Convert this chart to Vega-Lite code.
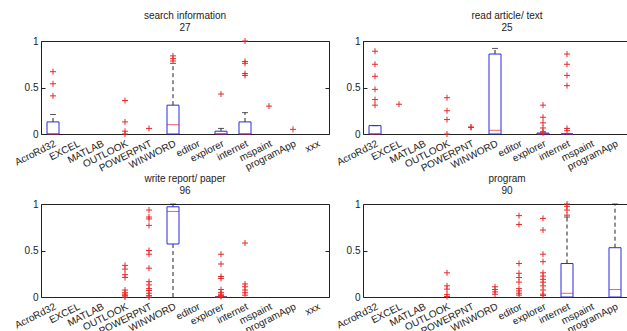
{
  "$schema": "https://vega.github.io/schema/vega-lite/v6.json",
  "autosize": "none",
  "padding": {"left": 41, "top": 41, "right": 586, "bottom": 290},
  "datasets": {
    "boxes": [
      {"panel": "search information", "app": "AcroRd32", "q1": 0, "med": 0, "q3": 0.13, "wlo": 0, "whi": 0.21},
      {"panel": "search information", "app": "WINWORD", "q1": 0, "med": 0.1, "q3": 0.31, "wlo": 0, "whi": 0.76},
      {"panel": "search information", "app": "explorer", "q1": 0, "med": 0, "q3": 0.03, "wlo": 0, "whi": 0.06},
      {"panel": "search information", "app": "internet", "q1": 0, "med": 0, "q3": 0.13, "wlo": 0, "whi": 0.23},
      {"panel": "read article/ text", "app": "AcroRd32", "q1": 0, "med": 0, "q3": 0.09, "wlo": 0, "whi": 0.09},
      {"panel": "read article/ text", "app": "WINWORD", "q1": 0, "med": 0.04, "q3": 0.86, "wlo": 0, "whi": 0.92},
      {"panel": "read article/ text", "app": "explorer", "q1": 0, "med": 0, "q3": 0.01, "wlo": 0, "whi": 0.01},
      {"panel": "read article/ text", "app": "internet", "q1": 0, "med": 0, "q3": 0, "wlo": 0, "whi": 0},
      {"panel": "write report/ paper", "app": "WINWORD", "q1": 0.57, "med": 0.92, "q3": 0.97, "wlo": 0, "whi": 1},
      {"panel": "write report/ paper", "app": "explorer", "q1": 0, "med": 0, "q3": 0, "wlo": 0, "whi": 0},
      {"panel": "program", "app": "internet", "q1": 0, "med": 0.04, "q3": 0.36, "wlo": 0, "whi": 0.86},
      {"panel": "program", "app": "programApp", "q1": 0, "med": 0.08, "q3": 0.53, "wlo": 0, "whi": 1}
    ],
    "outliers": [
      {"panel": "search information", "app": "AcroRd32", "v": 0.41},
      {"panel": "search information", "app": "AcroRd32", "v": 0.54},
      {"panel": "search information", "app": "AcroRd32", "v": 0.67},
      {"panel": "search information", "app": "OUTLOOK", "v": 0.36},
      {"panel": "search information", "app": "OUTLOOK", "v": 0.13},
      {"panel": "search information", "app": "OUTLOOK", "v": 0.03},
      {"panel": "search information", "app": "OUTLOOK", "v": 0.0},
      {"panel": "search information", "app": "POWERPNT", "v": 0.06},
      {"panel": "search information", "app": "WINWORD", "v": 0.785},
      {"panel": "search information", "app": "WINWORD", "v": 0.81},
      {"panel": "search information", "app": "WINWORD", "v": 0.84},
      {"panel": "search information", "app": "explorer", "v": 0.43},
      {"panel": "search information", "app": "internet", "v": 0.63},
      {"panel": "search information", "app": "internet", "v": 0.65},
      {"panel": "search information", "app": "internet", "v": 0.76},
      {"panel": "search information", "app": "internet", "v": 0.78},
      {"panel": "search information", "app": "internet", "v": 1.0},
      {"panel": "search information", "app": "mspaint", "v": 0.3},
      {"panel": "search information", "app": "programApp", "v": 0.05},
      {"panel": "read article/ text", "app": "AcroRd32", "v": 0.31},
      {"panel": "read article/ text", "app": "AcroRd32", "v": 0.37},
      {"panel": "read article/ text", "app": "AcroRd32", "v": 0.48},
      {"panel": "read article/ text", "app": "AcroRd32", "v": 0.62},
      {"panel": "read article/ text", "app": "AcroRd32", "v": 0.75},
      {"panel": "read article/ text", "app": "AcroRd32", "v": 0.89},
      {"panel": "read article/ text", "app": "EXCEL", "v": 0.32},
      {"panel": "read article/ text", "app": "OUTLOOK", "v": 0.39},
      {"panel": "read article/ text", "app": "OUTLOOK", "v": 0.25},
      {"panel": "read article/ text", "app": "OUTLOOK", "v": 0.155},
      {"panel": "read article/ text", "app": "OUTLOOK", "v": 0.0},
      {"panel": "read article/ text", "app": "POWERPNT", "v": 0.07},
      {"panel": "read article/ text", "app": "POWERPNT", "v": 0.075},
      {"panel": "read article/ text", "app": "explorer", "v": 0.31},
      {"panel": "read article/ text", "app": "explorer", "v": 0.18},
      {"panel": "read article/ text", "app": "explorer", "v": 0.12},
      {"panel": "read article/ text", "app": "explorer", "v": 0.065},
      {"panel": "read article/ text", "app": "explorer", "v": 0.025},
      {"panel": "read article/ text", "app": "explorer", "v": 0.01},
      {"panel": "read article/ text", "app": "internet", "v": 0.86},
      {"panel": "read article/ text", "app": "internet", "v": 0.75},
      {"panel": "read article/ text", "app": "internet", "v": 0.63},
      {"panel": "read article/ text", "app": "internet", "v": 0.52},
      {"panel": "read article/ text", "app": "internet", "v": 0.06},
      {"panel": "read article/ text", "app": "internet", "v": 0.035},
      {"panel": "write report/ paper", "app": "OUTLOOK", "v": 0.34},
      {"panel": "write report/ paper", "app": "OUTLOOK", "v": 0.3},
      {"panel": "write report/ paper", "app": "OUTLOOK", "v": 0.24},
      {"panel": "write report/ paper", "app": "OUTLOOK", "v": 0.21},
      {"panel": "write report/ paper", "app": "OUTLOOK", "v": 0.075},
      {"panel": "write report/ paper", "app": "OUTLOOK", "v": 0.046},
      {"panel": "write report/ paper", "app": "OUTLOOK", "v": 0.03},
      {"panel": "write report/ paper", "app": "OUTLOOK", "v": 0.014},
      {"panel": "write report/ paper", "app": "OUTLOOK", "v": 0.0},
      {"panel": "write report/ paper", "app": "POWERPNT", "v": 0.935},
      {"panel": "write report/ paper", "app": "POWERPNT", "v": 0.86},
      {"panel": "write report/ paper", "app": "POWERPNT", "v": 0.84},
      {"panel": "write report/ paper", "app": "POWERPNT", "v": 0.77},
      {"panel": "write report/ paper", "app": "POWERPNT", "v": 0.5},
      {"panel": "write report/ paper", "app": "POWERPNT", "v": 0.46},
      {"panel": "write report/ paper", "app": "POWERPNT", "v": 0.31},
      {"panel": "write report/ paper", "app": "POWERPNT", "v": 0.165},
      {"panel": "write report/ paper", "app": "POWERPNT", "v": 0.13},
      {"panel": "write report/ paper", "app": "POWERPNT", "v": 0.09},
      {"panel": "write report/ paper", "app": "POWERPNT", "v": 0.07},
      {"panel": "write report/ paper", "app": "POWERPNT", "v": 0.04},
      {"panel": "write report/ paper", "app": "POWERPNT", "v": 0.015},
      {"panel": "write report/ paper", "app": "POWERPNT", "v": 0.0},
      {"panel": "write report/ paper", "app": "explorer", "v": 0.46},
      {"panel": "write report/ paper", "app": "explorer", "v": 0.355},
      {"panel": "write report/ paper", "app": "explorer", "v": 0.22},
      {"panel": "write report/ paper", "app": "explorer", "v": 0.2},
      {"panel": "write report/ paper", "app": "explorer", "v": 0.08},
      {"panel": "write report/ paper", "app": "explorer", "v": 0.05},
      {"panel": "write report/ paper", "app": "explorer", "v": 0.03},
      {"panel": "write report/ paper", "app": "explorer", "v": 0.015},
      {"panel": "write report/ paper", "app": "explorer", "v": 0.005},
      {"panel": "write report/ paper", "app": "internet", "v": 0.58},
      {"panel": "write report/ paper", "app": "internet", "v": 0.14},
      {"panel": "write report/ paper", "app": "internet", "v": 0.11},
      {"panel": "write report/ paper", "app": "internet", "v": 0.075},
      {"panel": "write report/ paper", "app": "internet", "v": 0.046},
      {"panel": "write report/ paper", "app": "internet", "v": 0.02},
      {"panel": "program", "app": "OUTLOOK", "v": 0.26},
      {"panel": "program", "app": "OUTLOOK", "v": 0.12},
      {"panel": "program", "app": "OUTLOOK", "v": 0.085},
      {"panel": "program", "app": "OUTLOOK", "v": 0.025},
      {"panel": "program", "app": "OUTLOOK", "v": 0.005},
      {"panel": "program", "app": "WINWORD", "v": 0.11},
      {"panel": "program", "app": "WINWORD", "v": 0.08},
      {"panel": "program", "app": "WINWORD", "v": 0.055},
      {"panel": "program", "app": "WINWORD", "v": 0.03},
      {"panel": "program", "app": "editor", "v": 0.875},
      {"panel": "program", "app": "editor", "v": 0.78},
      {"panel": "program", "app": "editor", "v": 0.36},
      {"panel": "program", "app": "editor", "v": 0.255},
      {"panel": "program", "app": "editor", "v": 0.21},
      {"panel": "program", "app": "editor", "v": 0.16},
      {"panel": "program", "app": "editor", "v": 0.09},
      {"panel": "program", "app": "editor", "v": 0.065},
      {"panel": "program", "app": "editor", "v": 0.04},
      {"panel": "program", "app": "editor", "v": 0.02},
      {"panel": "program", "app": "explorer", "v": 0.845},
      {"panel": "program", "app": "explorer", "v": 0.72},
      {"panel": "program", "app": "explorer", "v": 0.46},
      {"panel": "program", "app": "explorer", "v": 0.38},
      {"panel": "program", "app": "explorer", "v": 0.26},
      {"panel": "program", "app": "explorer", "v": 0.225},
      {"panel": "program", "app": "explorer", "v": 0.19},
      {"panel": "program", "app": "explorer", "v": 0.16},
      {"panel": "program", "app": "explorer", "v": 0.12},
      {"panel": "program", "app": "explorer", "v": 0.075},
      {"panel": "program", "app": "explorer", "v": 0.03},
      {"panel": "program", "app": "explorer", "v": 0.015},
      {"panel": "program", "app": "internet", "v": 1.0},
      {"panel": "program", "app": "internet", "v": 0.975},
      {"panel": "program", "app": "internet", "v": 0.935},
      {"panel": "program", "app": "internet", "v": 0.88}
    ]
  },
  "concat": [
    {
      "title": {"text": ["search information", "27"]},
      "width": 288, "height": 93,
      "layer": [
        {"data": {"name": "boxes"}, "transform": [{"filter": "datum.panel === 'search information'"}],
         "mark": {"type": "rule", "color": "#222", "strokeDash": [4, 3]},
         "encoding": {"x": {"field": "app", "type": "nominal", "title": null, "scale": {"domain": ["AcroRd32","EXCEL","MATLAB","OUTLOOK","POWERPNT","WINWORD","editor","explorer","internet","mspaint","programApp","xxx"]}},
                      "y": {"field": "q3", "type": "quantitative", "scale": {"domain": [0, 1]}, "axis": null}, "y2": {"field": "whi"}}},
        {"data": {"name": "boxes"}, "transform": [{"filter": "datum.panel === 'search information'"}],
         "mark": {"type": "rule", "color": "#222", "strokeDash": [4, 3]},
         "encoding": {"x": {"field": "app", "type": "nominal", "title": null},
                      "y": {"field": "wlo", "type": "quantitative", "axis": null}, "y2": {"field": "q1"}}},
        {"data": {"name": "boxes"}, "transform": [{"filter": "datum.panel === 'search information'"}],
         "mark": {"type": "tick", "color": "#111", "size": 6, "thickness": 1},
         "encoding": {"x": {"field": "app", "type": "nominal", "title": null},
                      "y": {"field": "whi", "type": "quantitative", "axis": null}}},
        {"data": {"name": "boxes"}, "transform": [{"filter": "datum.panel === 'search information'"}],
         "mark": {"type": "bar", "fill": "transparent", "stroke": "#2a2ae0", "strokeWidth": 1, "width": {"band": 0.5}},
         "encoding": {"x": {"field": "app", "type": "nominal", "title": null},
                      "y": {"field": "q1", "type": "quantitative", "title": null, "axis": {"values": [0, 0.5, 1], "format": "~g"}}, "y2": {"field": "q3"}}},
        {"data": {"name": "boxes"}, "transform": [{"filter": "datum.panel === 'search information'"}],
         "mark": {"type": "tick", "color": "#e02020", "size": 12, "thickness": 1},
         "encoding": {"x": {"field": "app", "type": "nominal", "title": null},
                      "y": {"field": "med", "type": "quantitative", "axis": null}}},
        {"data": {"name": "outliers"}, "transform": [{"filter": "datum.panel === 'search information'"}],
         "mark": {"type": "point", "shape": "M-1,0H1M0,-1V1", "size": 36, "filled": false, "stroke": "#e82828", "strokeWidth": 1, "opacity": 1},
         "encoding": {"x": {"field": "app", "type": "nominal", "title": null},
                      "y": {"field": "v", "type": "quantitative", "title": null, "axis": {"orient": "right", "values": [0, 0.5, 1], "labels": false}}}}
      ],
      "resolve": {"axis": {"y": "independent"}}
    },
    {
      "title": {"text": ["read article/ text", "25"]},
      "width": 288, "height": 93,
      "layer": [
        {"data": {"name": "boxes"}, "transform": [{"filter": "datum.panel === 'read article/ text'"}],
         "mark": {"type": "rule", "color": "#222", "strokeDash": [4, 3]},
         "encoding": {"x": {"field": "app", "type": "nominal", "title": null, "scale": {"domain": ["AcroRd32","EXCEL","MATLAB","OUTLOOK","POWERPNT","WINWORD","editor","explorer","internet","mspaint","programApp","xxx"]}},
                      "y": {"field": "q3", "type": "quantitative", "scale": {"domain": [0, 1]}, "axis": null}, "y2": {"field": "whi"}}},
        {"data": {"name": "boxes"}, "transform": [{"filter": "datum.panel === 'read article/ text'"}],
         "mark": {"type": "rule", "color": "#222", "strokeDash": [4, 3]},
         "encoding": {"x": {"field": "app", "type": "nominal", "title": null},
                      "y": {"field": "wlo", "type": "quantitative", "axis": null}, "y2": {"field": "q1"}}},
        {"data": {"name": "boxes"}, "transform": [{"filter": "datum.panel === 'read article/ text'"}],
         "mark": {"type": "tick", "color": "#111", "size": 6, "thickness": 1},
         "encoding": {"x": {"field": "app", "type": "nominal", "title": null},
                      "y": {"field": "whi", "type": "quantitative", "axis": null}}},
        {"data": {"name": "boxes"}, "transform": [{"filter": "datum.panel === 'read article/ text'"}],
         "mark": {"type": "bar", "fill": "transparent", "stroke": "#2a2ae0", "strokeWidth": 1, "width": {"band": 0.5}},
         "encoding": {"x": {"field": "app", "type": "nominal", "title": null},
                      "y": {"field": "q1", "type": "quantitative", "title": null, "axis": {"values": [0, 0.5, 1], "format": "~g"}}, "y2": {"field": "q3"}}},
        {"data": {"name": "boxes"}, "transform": [{"filter": "datum.panel === 'read article/ text'"}],
         "mark": {"type": "tick", "color": "#e02020", "size": 12, "thickness": 1},
         "encoding": {"x": {"field": "app", "type": "nominal", "title": null},
                      "y": {"field": "med", "type": "quantitative", "axis": null}}},
        {"data": {"name": "outliers"}, "transform": [{"filter": "datum.panel === 'read article/ text'"}],
         "mark": {"type": "point", "shape": "M-1,0H1M0,-1V1", "size": 36, "filled": false, "stroke": "#e82828", "strokeWidth": 1, "opacity": 1},
         "encoding": {"x": {"field": "app", "type": "nominal", "title": null},
                      "y": {"field": "v", "type": "quantitative", "title": null, "axis": {"orient": "right", "values": [0, 0.5, 1], "labels": false}}}}
      ],
      "resolve": {"axis": {"y": "independent"}}
    },
    {
      "title": {"text": ["write report/ paper", "96"]},
      "width": 288, "height": 93,
      "layer": [
        {"data": {"name": "boxes"}, "transform": [{"filter": "datum.panel === 'write report/ paper'"}],
         "mark": {"type": "rule", "color": "#222", "strokeDash": [4, 3]},
         "encoding": {"x": {"field": "app", "type": "nominal", "title": null, "scale": {"domain": ["AcroRd32","EXCEL","MATLAB","OUTLOOK","POWERPNT","WINWORD","editor","explorer","internet","mspaint","programApp","xxx"]}},
                      "y": {"field": "q3", "type": "quantitative", "scale": {"domain": [0, 1]}, "axis": null}, "y2": {"field": "whi"}}},
        {"data": {"name": "boxes"}, "transform": [{"filter": "datum.panel === 'write report/ paper'"}],
         "mark": {"type": "rule", "color": "#222", "strokeDash": [4, 3]},
         "encoding": {"x": {"field": "app", "type": "nominal", "title": null},
                      "y": {"field": "wlo", "type": "quantitative", "axis": null}, "y2": {"field": "q1"}}},
        {"data": {"name": "boxes"}, "transform": [{"filter": "datum.panel === 'write report/ paper'"}],
         "mark": {"type": "tick", "color": "#111", "size": 6, "thickness": 1},
         "encoding": {"x": {"field": "app", "type": "nominal", "title": null},
                      "y": {"field": "whi", "type": "quantitative", "axis": null}}},
        {"data": {"name": "boxes"}, "transform": [{"filter": "datum.panel === 'write report/ paper'"}],
         "mark": {"type": "bar", "fill": "transparent", "stroke": "#2a2ae0", "strokeWidth": 1, "width": {"band": 0.5}},
         "encoding": {"x": {"field": "app", "type": "nominal", "title": null},
                      "y": {"field": "q1", "type": "quantitative", "title": null, "axis": {"values": [0, 0.5, 1], "format": "~g"}}, "y2": {"field": "q3"}}},
        {"data": {"name": "boxes"}, "transform": [{"filter": "datum.panel === 'write report/ paper'"}],
         "mark": {"type": "tick", "color": "#e02020", "size": 12, "thickness": 1},
         "encoding": {"x": {"field": "app", "type": "nominal", "title": null},
                      "y": {"field": "med", "type": "quantitative", "axis": null}}},
        {"data": {"name": "outliers"}, "transform": [{"filter": "datum.panel === 'write report/ paper'"}],
         "mark": {"type": "point", "shape": "M-1,0H1M0,-1V1", "size": 36, "filled": false, "stroke": "#e82828", "strokeWidth": 1, "opacity": 1},
         "encoding": {"x": {"field": "app", "type": "nominal", "title": null},
                      "y": {"field": "v", "type": "quantitative", "title": null, "axis": {"orient": "right", "values": [0, 0.5, 1], "labels": false}}}}
      ],
      "resolve": {"axis": {"y": "independent"}}
    },
    {
      "title": {"text": ["program", "90"]},
      "width": 288, "height": 93,
      "layer": [
        {"data": {"name": "boxes"}, "transform": [{"filter": "datum.panel === 'program'"}],
         "mark": {"type": "rule", "color": "#222", "strokeDash": [4, 3]},
         "encoding": {"x": {"field": "app", "type": "nominal", "title": null, "scale": {"domain": ["AcroRd32","EXCEL","MATLAB","OUTLOOK","POWERPNT","WINWORD","editor","explorer","internet","mspaint","programApp","xxx"]}},
                      "y": {"field": "q3", "type": "quantitative", "scale": {"domain": [0, 1]}, "axis": null}, "y2": {"field": "whi"}}},
        {"data": {"name": "boxes"}, "transform": [{"filter": "datum.panel === 'program'"}],
         "mark": {"type": "rule", "color": "#222", "strokeDash": [4, 3]},
         "encoding": {"x": {"field": "app", "type": "nominal", "title": null},
                      "y": {"field": "wlo", "type": "quantitative", "axis": null}, "y2": {"field": "q1"}}},
        {"data": {"name": "boxes"}, "transform": [{"filter": "datum.panel === 'program'"}],
         "mark": {"type": "tick", "color": "#111", "size": 6, "thickness": 1},
         "encoding": {"x": {"field": "app", "type": "nominal", "title": null},
                      "y": {"field": "whi", "type": "quantitative", "axis": null}}},
        {"data": {"name": "boxes"}, "transform": [{"filter": "datum.panel === 'program'"}],
         "mark": {"type": "bar", "fill": "transparent", "stroke": "#2a2ae0", "strokeWidth": 1, "width": {"band": 0.5}},
         "encoding": {"x": {"field": "app", "type": "nominal", "title": null},
                      "y": {"field": "q1", "type": "quantitative", "title": null, "axis": {"values": [0, 0.5, 1], "format": "~g"}}, "y2": {"field": "q3"}}},
        {"data": {"name": "boxes"}, "transform": [{"filter": "datum.panel === 'program'"}],
         "mark": {"type": "tick", "color": "#e02020", "size": 12, "thickness": 1},
         "encoding": {"x": {"field": "app", "type": "nominal", "title": null},
                      "y": {"field": "med", "type": "quantitative", "axis": null}}},
        {"data": {"name": "outliers"}, "transform": [{"filter": "datum.panel === 'program'"}],
         "mark": {"type": "point", "shape": "M-1,0H1M0,-1V1", "size": 36, "filled": false, "stroke": "#e82828", "strokeWidth": 1, "opacity": 1},
         "encoding": {"x": {"field": "app", "type": "nominal", "title": null},
                      "y": {"field": "v", "type": "quantitative", "title": null, "axis": {"orient": "right", "values": [0, 0.5, 1], "labels": false}}}}
      ],
      "resolve": {"axis": {"y": "independent"}}
    }
  ],
  "columns": 2,
  "spacing": {"row": 70, "column": 34},
  "bounds": "flush",
  "config": {
    "font": "Liberation Sans",
    "background": "white",
    "view": {"stroke": "#222", "strokeWidth": 1},
    "title": {"fontSize": 10, "fontWeight": "normal", "lineHeight": 12, "offset": 3, "anchor": "middle", "color": "#222", "font": "Liberation Sans"},
    "scale": {"bandPaddingInner": 0, "bandPaddingOuter": 0},
    "axis": {"grid": false, "domain": false, "labelFontSize": 10, "labelColor": "#222", "labelFont": "Liberation Sans", "tickColor": "#222"},
    "axisX": {"labelAngle": -27, "labelAlign": "right", "labelBaseline": "top", "ticks": false, "labelPadding": 4, "labelOverlap": false},
    "axisY": {"tickSize": -4, "labelPadding": 7}
  }
}
